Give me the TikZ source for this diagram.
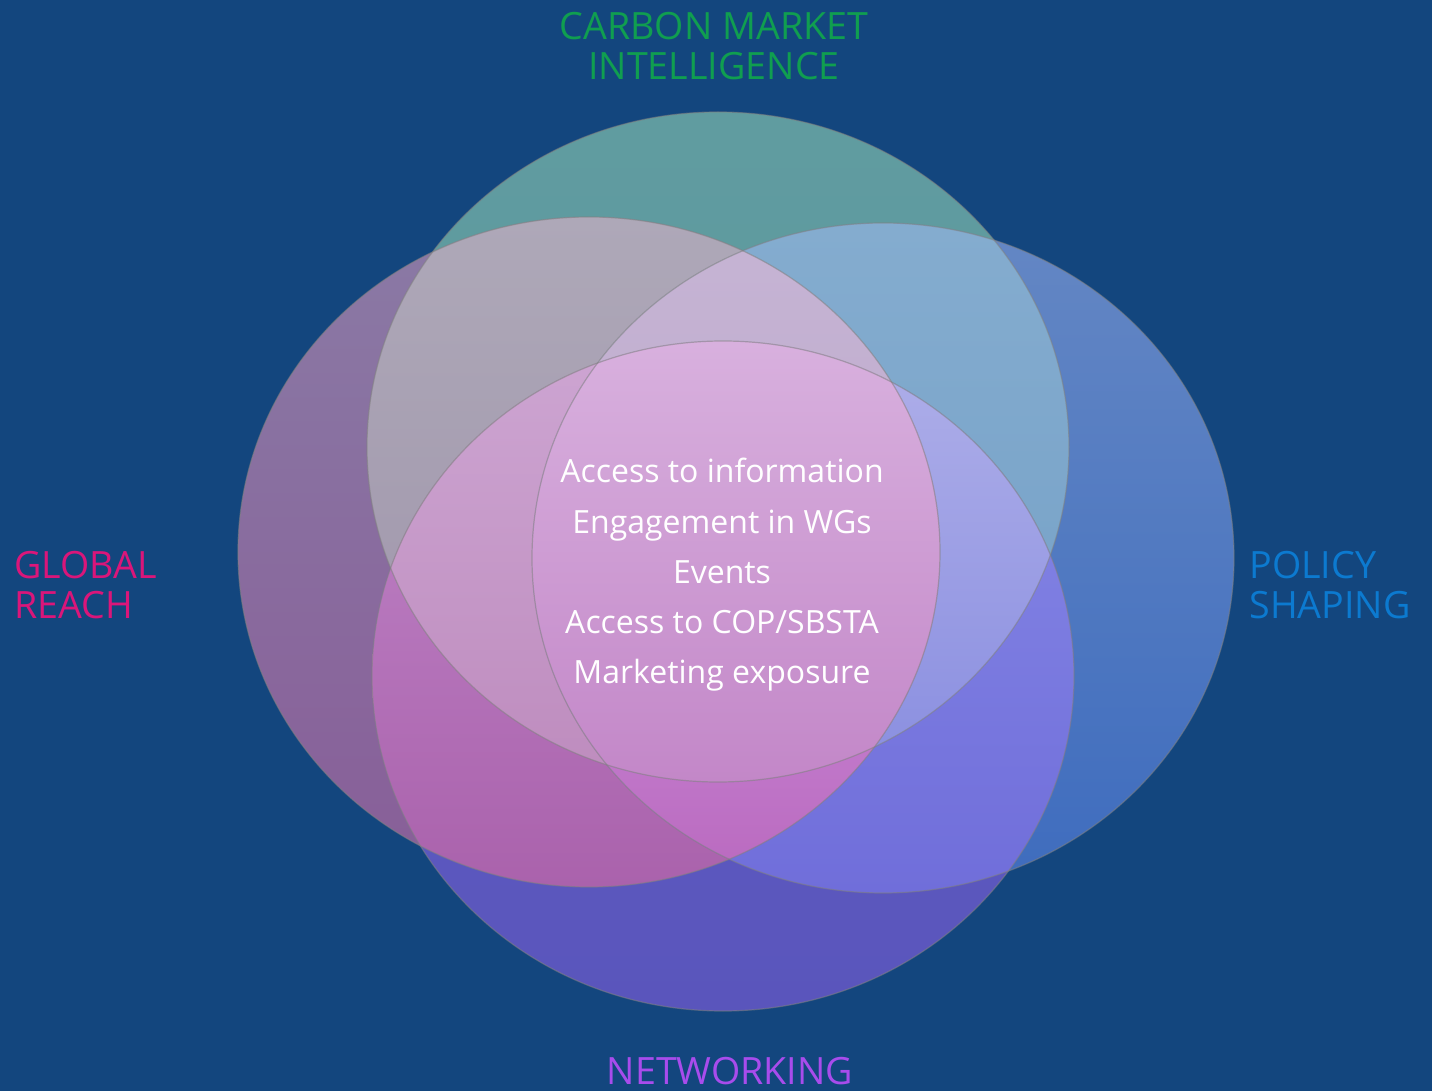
\documentclass[tikz,border=0pt]{standalone}
\usepackage{fontspec}
\setmainfont{Open Sans}
\begin{document}
\begin{tikzpicture}[x=0.5pt,y=-0.5pt,
  edge/.style={draw=gray, draw opacity=0.55, line width=0.6pt},
  lbl/.style={inner sep=0pt, font=\fontsize{18.8}{20}\selectfont, align=left},
  inner/.style={inner sep=0pt, font=\fontsize{16}{25.1}\selectfont, align=center, text=white}]
\definecolor{bg}{RGB}{19,70,126}
\definecolor{cgreen}{RGB}{16,158,80}
\definecolor{cpink}{RGB}{218,22,122}
\definecolor{cblue}{RGB}{12,122,208}
\definecolor{cpurple}{RGB}{168,76,236}
\def\ET{(718,447) ellipse [x radius=351, y radius=335]}
\def\EL{(589,552) ellipse [x radius=351, y radius=335]}
\def\ER{(883,558) ellipse [x radius=351, y radius=335]}
\def\EB{(723,676) ellipse [x radius=351, y radius=335]}
\def\RG#1#2{(0,#1) rectangle (1432,#2)}
% background
\fill[bg] (0,0) rectangle (1432,1091);
\useasboundingbox (0,0) rectangle (1432,1091);
% single ellipses
\shade[top color={rgb,255:red,96;green,156;blue,160}, bottom color={rgb,255:red,92;green,150;blue,157}] \ET;
\shade[top color={rgb,255:red,100;green,135;blue,196}, bottom color={rgb,255:red,62;green,108;blue,190}] \ER;
\shade[top color={rgb,255:red,138;green,122;blue,165}, bottom color={rgb,255:red,136;green,94;blue,152}] \EL;
\shade[top color={rgb,255:red,96;green,96;blue,196}, bottom color={rgb,255:red,90;green,85;blue,188}] \EB;
% pairs
\begin{scope}\clip \ET; \clip \EL;
  \shade[top color={rgb,255:red,174;green,168;blue,184}, bottom color={rgb,255:red,158;green,148;blue,170}] \RG{217}{782};
\end{scope}
\begin{scope}\clip \ET; \clip \ER;
  \shade[top color={rgb,255:red,132;green,172;blue,207}, bottom color={rgb,255:red,116;green,160;blue,198}] \RG{224}{782};
\end{scope}
\begin{scope}\clip \EL; \clip \EB;
  \shade[top color={rgb,255:red,193;green,136;blue,202}, bottom color={rgb,255:red,170;green,98;blue,172}] \RG{342}{888};
\end{scope}
\begin{scope}\clip \ER; \clip \EB;
  \shade[top color={rgb,255:red,136;green,138;blue,231}, bottom color={rgb,255:red,112;green,110;blue,218}] \RG{342}{893};
\end{scope}
% triples
\begin{scope}\clip \ET; \clip \EL; \clip \ER;
  \shade[top color={rgb,255:red,198;green,180;blue,212}, bottom color={rgb,255:red,185;green,165;blue,200}] \RG{227}{782};
\end{scope}
\begin{scope}\clip \ET; \clip \EL; \clip \EB;
  \shade[top color={rgb,255:red,205;green,165;blue,210}, bottom color={rgb,255:red,190;green,140;blue,190}] \RG{342}{782};
\end{scope}
\begin{scope}\clip \ET; \clip \ER; \clip \EB;
  \shade[top color={rgb,255:red,175;green,175;blue,233}, bottom color={rgb,255:red,137;green,142;blue,224}] \RG{342}{782};
\end{scope}
\begin{scope}\clip \EL; \clip \ER; \clip \EB;
  \shade[top color={rgb,255:red,214;green,164;blue,234}, bottom color={rgb,255:red,185;green,104;blue,190}] \RG{342}{893};
\end{scope}
% all four
\begin{scope}\clip \ET; \clip \EL; \clip \ER; \clip \EB;
  \shade[top color={rgb,255:red,216;green,176;blue,222}, bottom color={rgb,255:red,195;green,135;blue,200}] \RG{342}{782};
\end{scope}
% outlines
\draw[edge] \ET;
\draw[edge] \ER;
\draw[edge] \EL;
\draw[edge] \EB;
% labels
\node[lbl, align=center, text=cgreen, anchor=north] (carbon) at (714,12) {CARBON MARKET\\INTELLIGENCE};
\node[lbl, text=cpink, anchor=north west] (global) at (14,551) {GLOBAL\\REACH};
\node[lbl, text=cblue, anchor=north west] (policy) at (1249,551) {POLICY\\SHAPING};
\node[lbl, text=cpurple, anchor=north] (network) at (730,1057) {NETWORKING};
\node[inner, anchor=north] (benefits) at (722,458) {Access to information\\Engagement in WGs\\Events\\Access to COP/SBSTA\\Marketing exposure};
\end{tikzpicture}
\end{document}
